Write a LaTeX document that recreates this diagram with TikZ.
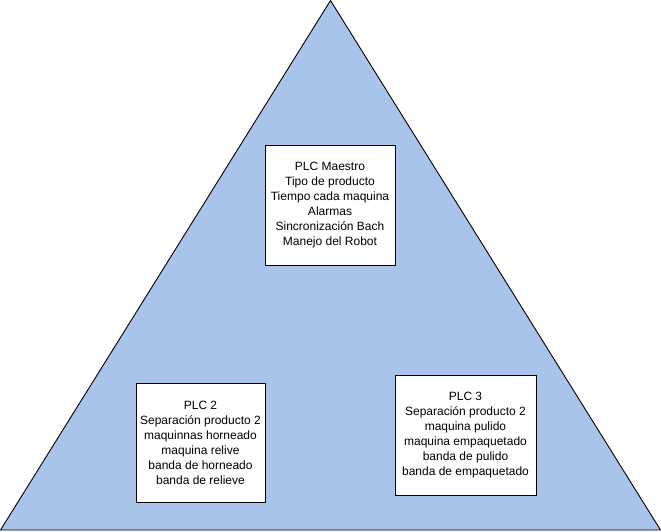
\documentclass[tikz,border=0pt]{standalone}
\usepackage{fontspec}
\setmainfont{Liberation Sans}
\usepackage{tikz}
\usetikzlibrary{positioning, calc}
\definecolor{pyrfill}{HTML}{A9C4EB}
\tikzset{
    plcbox/.style={draw=black, fill=white, line width=0.75pt, align=center,
        inner sep=0pt, font=\fontsize{12}{15}\selectfont},
}
\begin{document}
\begin{tikzpicture}[x=1pt, y=-1pt]
    \useasboundingbox (0,0) rectangle (661,531);

    % pyramid
    \coordinate (top) at (330.5,0.5);
    \coordinate (bl) at (0.5,530);
    \coordinate (br) at (660.5,530);
    \draw[black, line width=0.9pt, fill=pyrfill] (top) -- (br) -- (bl) -- cycle;

    % boxes
    \node[plcbox, minimum width=130, minimum height=120] (plc1) at (330,205)
        {PLC Maestro\\Tipo de producto\\Tiempo cada maquina\\Alarmas\\Sincronización Bach\\Manejo del Robot};
    \node[plcbox, minimum width=129, minimum height=119] (plc2) at (200.5,442.5)
        {PLC 2\\Separación producto 2\\maquinnas horneado\\maquina relive\\banda de horneado\\banda de relieve};
    \node[plcbox, minimum width=141, minimum height=120] (plc3) at (465.5,435)
        {PLC 3\\Separación producto 2\\maquina pulido\\maquina empaquetado\\banda de pulido\\banda de empaquetado};
\end{tikzpicture}
\end{document}
